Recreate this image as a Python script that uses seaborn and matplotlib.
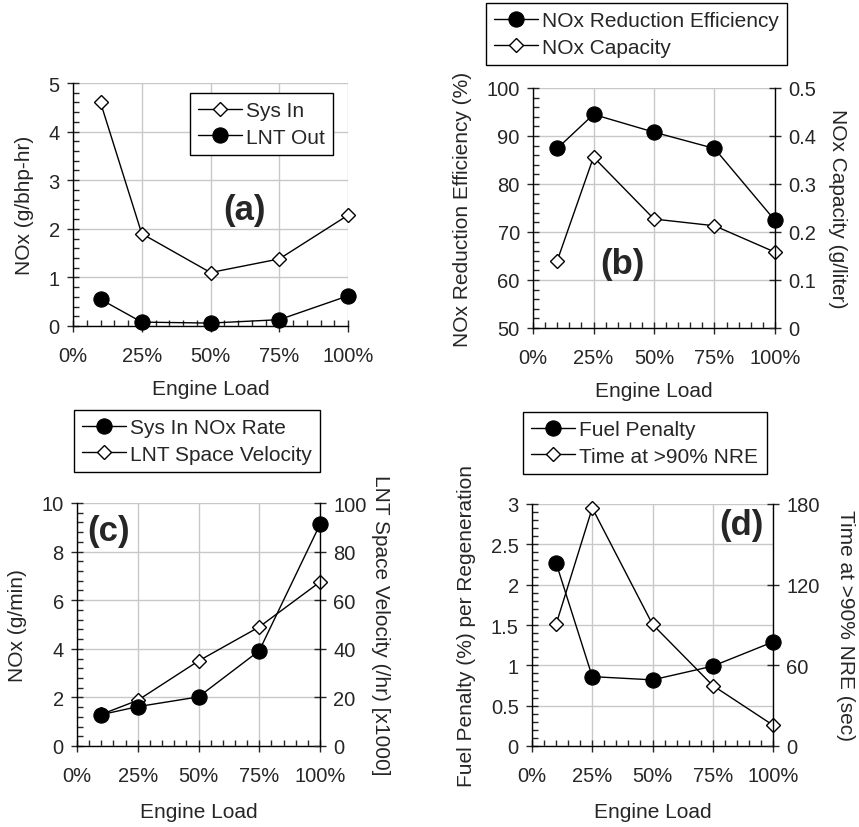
import matplotlib
matplotlib.use("Agg")
import matplotlib.pyplot as plt
import seaborn as sns
from matplotlib.ticker import MultipleLocator

# engine load points (fraction of full load)
load = [0.10, 0.25, 0.50, 0.75, 1.00]
load_ticks = [0, 0.25, 0.5, 0.75, 1.0]
load_labels = ['0%', '25%', '50%', '75%', '100%']

# (a) brake specific NOx
sys_in = [4.6, 1.9, 1.1, 1.38, 2.28]
lnt_out = [0.55, 0.08, 0.06, 0.13, 0.62]

# (b) efficiency and capacity
nox_eff = [87.4, 94.5, 90.8, 87.4, 72.4]
nox_cap = [0.140, 0.356, 0.227, 0.213, 0.158]

# (c) NOx rate and space velocity
nox_rate = [1.29, 1.62, 2.02, 3.92, 9.12]
space_vel = [13.0, 18.8, 35.0, 49.0, 67.5]

# (d) fuel penalty and time above 90% NRE
fuel_pen = [2.27, 0.86, 0.82, 0.99, 1.29]
time_90 = [90.5, 177.0, 90.5, 45.0, 15.5]

sns.set_style("ticks")
plt.rcParams['font.family'] = ['Liberation Sans', 'DejaVu Sans']
plt.rcParams['font.size'] = 14

TICK_FS = 14.5
LABEL_FS = 15

fig = plt.figure(figsize=(8.59, 8.28), dpi=100)
W, H = 859.0, 828.0


def make_axes(l, r, t, b):
    return fig.add_axes([l / W, 1 - b / H, (r - l) / W, (b - t) / H])


def style(ax, ymin, ymax, ymajor, yminor, xlab_y):
    ax.set_xlim(0, 1)
    ax.set_ylim(ymin, ymax)
    ax.set_xticks(load_ticks)
    ax.set_xticklabels(load_labels)
    ax.xaxis.set_minor_locator(MultipleLocator(0.05))
    ax.yaxis.set_major_locator(MultipleLocator(ymajor))
    ax.yaxis.set_minor_locator(MultipleLocator(yminor))
    ax.yaxis.set_major_formatter(plt.FuncFormatter(lambda v, p: f"{v:g}"))
    ax.tick_params(which='major', direction='inout', length=9, width=1, labelsize=TICK_FS, pad=5)
    ax.tick_params(which='minor', direction='in', length=4, width=1)
    ax.tick_params(axis='x', which='major', pad=10)
    ax.grid(True, which='major', color='#c8c8c8', lw=1)
    ax.set_axisbelow(True)
    for s in ['top', 'right']:
        ax.spines[s].set_visible(False)
    for s in ['left', 'bottom']:
        ax.spines[s].set_color('black')
        ax.spines[s].set_linewidth(1)
    ax.set_xlabel('Engine Load', fontsize=LABEL_FS)
    ax.xaxis.set_label_coords(0.5, xlab_y)


def draw(ax, y, kind, label):
    if kind == 'o':
        kw = dict(marker='o', markersize=11, markerfacecolor='black', markeredgecolor='black')
    else:
        kw = dict(marker='D', markersize=7.5, markerfacecolor='white', markeredgecolor='black',
                  markeredgewidth=1)
    sns.lineplot(x=load, y=y, ax=ax, color='black', lw=1, label=label, clip_on=False,
                 legend=False, **kw)
    if ax.get_legend():
        ax.get_legend().remove()
    return ax.get_lines()[-1]


def left_label(ax, text, xcoord):
    ax.set_ylabel(text, fontsize=LABEL_FS, va='center')
    ax.yaxis.set_label_coords(xcoord, 0.5)


def right_axis(ax, ymax, ymajor, label, xcoord):
    ax2 = ax.twinx()
    ax2.set_ylim(0, ymax)
    ax2.yaxis.set_major_locator(MultipleLocator(ymajor))
    ax2.yaxis.set_major_formatter(plt.FuncFormatter(lambda v, p: f"{v:g}"))
    ax2.tick_params(which='major', direction='inout', length=9, width=1, labelsize=TICK_FS, pad=5)
    for s in ['top', 'left', 'bottom']:
        ax2.spines[s].set_visible(False)
    ax2.spines['right'].set_color('black')
    ax2.spines['right'].set_linewidth(1)
    ax2.grid(False)
    ax2.set_ylabel(label, rotation=270, fontsize=LABEL_FS, va='center')
    ax2.yaxis.set_label_coords(xcoord, 0.5)
    return ax2


def top_layer(ax):
    # hidden copy of the left scale, drawn above the right-axis series
    ax3 = ax.twinx()
    ax3.set_ylim(ax.get_ylim())
    ax3.axis('off')
    return ax3


def add_legend(handles, labels, x, y):
    leg = fig.legend(handles, labels, loc='upper left', bbox_to_anchor=(x / W, 1 - y / H),
                     borderaxespad=0, fancybox=False, edgecolor='black', framealpha=1,
                     fontsize=LABEL_FS, handlelength=2.1, handletextpad=0.2, borderpad=0.4,
                     labelspacing=0.35)
    leg.get_frame().set_linewidth(1)


def letter(ax, s, x, y):
    ax.text(x, y, s, transform=ax.transAxes, fontsize=25, fontweight='bold',
            ha='center', va='center')


# (a)
ax_a = make_axes(73, 348, 84, 327)
style(ax_a, 0, 5, 1, 0.2, -0.22)
h1 = draw(ax_a, sys_in, 'D', 'Sys In')
h2 = draw(ax_a, lnt_out, 'o', 'LNT Out')
left_label(ax_a, 'NOx (g/bhp-hr)', -0.175)
letter(ax_a, '(a)', 0.625, 0.48)
add_legend([h1, h2], ['Sys In', 'LNT Out'], 190, 94)

# (b)
ax_b = make_axes(533, 775, 89, 329)
style(ax_b, 50, 100, 10, 2, -0.22)
left_label(ax_b, 'NOx Reduction Efficiency (%)', -0.293)
ax_b2 = right_axis(ax_b, 0.5, 0.1, 'NOx Capacity (g/liter)', 1.26)
h2 = draw(ax_b2, nox_cap, 'D', 'NOx Capacity')
h1 = draw(top_layer(ax_b), nox_eff, 'o', 'NOx Reduction Efficiency')
letter(ax_b, '(b)', 0.37, 0.27)
add_legend([h1, h2], ['NOx Reduction Efficiency', 'NOx Capacity'], 486, 4)

# (c)
ax_c = make_axes(77, 320, 504, 747)
style(ax_c, 0, 10, 2, 0.4, -0.23)
left_label(ax_c, 'NOx (g/min)', -0.245)
ax_c2 = right_axis(ax_c, 100, 20, 'LNT Space Velocity (/hr) [x1000]', 1.247)
h2 = draw(ax_c2, space_vel, 'D', 'LNT Space Velocity')
h1 = draw(top_layer(ax_c), nox_rate, 'o', 'Sys In NOx Rate')
letter(ax_c, '(c)', 0.128, 0.885)
add_legend([h1, h2], ['Sys In NOx Rate', 'LNT Space Velocity'], 74, 411)

# (d)
ax_d = make_axes(532, 773, 505, 747)
style(ax_d, 0, 3, 0.5, 0.1, -0.23)
left_label(ax_d, 'Fuel Penalty (%) per Regeneration', -0.27)
ax_d2 = right_axis(ax_d, 180, 60, 'Time at >90% NRE (sec)', 1.30)
h2 = draw(ax_d2, time_90, 'D', 'Time at >90% NRE')
h1 = draw(top_layer(ax_d), fuel_pen, 'o', 'Fuel Penalty')
letter(ax_d, '(d)', 0.87, 0.915)
add_legend([h1, h2], ['Fuel Penalty', 'Time at >90% NRE'], 523, 413)

fig.savefig('out.png', dpi=100)
